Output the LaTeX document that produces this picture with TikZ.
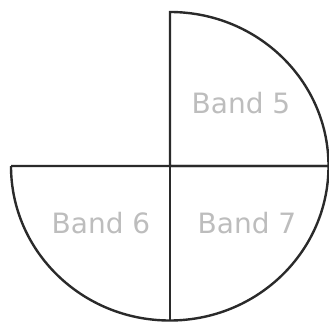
\documentclass[tikz,border=0pt]{standalone}
\usepackage{fontspec}
\setmainfont{DejaVu Sans}
\definecolor{linec}{HTML}{2A2A2A}
\definecolor{textc}{HTML}{BDBDBD}
\tikzset{
  edge/.style={draw=linec, line width=2.4pt, line join=miter},
  lbl/.style={text=textc, font=\fontsize{28}{30}\selectfont, inner sep=0pt}
}
\begin{document}
\begin{tikzpicture}[x=1pt,y=1pt]
\useasboundingbox (0,0) rectangle (329,324);
\coordinate (c) at (170,158);
\coordinate (top) at (170,312);
\coordinate (right) at (328.5,158);
\coordinate (left) at (11,158);
\coordinate (bot) at (170,3.5);
% upper right quadrant
\draw[edge] (c) -- (top) arc[start angle=90, end angle=0, x radius=158.5, y radius=154] -- cycle;
% lower left + lower right half
\draw[edge] (left) -- (right) arc[start angle=0, end angle=-180, x radius=158.75, y radius=154.5];
\draw[edge] (c) -- (bot);
\node[lbl] (b5) at (241,221) {Band 5};
\node[lbl] (b6) at (101,101) {Band 6};
\node[lbl] (b7) at (247,101) {Band 7};
\end{tikzpicture}
\end{document}
